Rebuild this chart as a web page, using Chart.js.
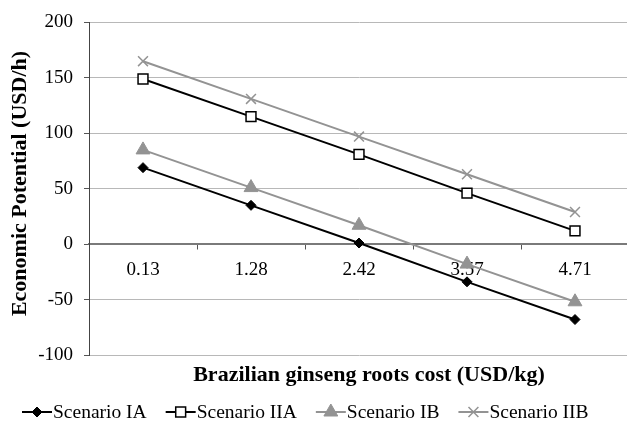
<!DOCTYPE html>
<html>
<head>
<meta charset="utf-8">
<script src="https://cdn.jsdelivr.net/npm/chart.js@4.4.1/dist/chart.umd.min.js"></script>
<style>
  html, body { margin: 0; padding: 0; background: #fff; }
  #wrap { width: 627px; height: 423px; position: relative; overflow: hidden; }
</style>
</head>
<body>
<div id="wrap"><canvas id="chart" width="629" height="423"></canvas></div>
<script>
// Brazilian ginseng roots cost (USD/kg)
const categories = ['0.13', '1.28', '2.42', '3.57', '4.71'];

// Economic potential (USD/h) per scenario
const scenarioIA  = [69, 35, 1, -34, -68];
const scenarioIIA = [149, 115, 81, 46, 12];
const scenarioIB  = [85, 51, 17, -18, -52];
const scenarioIIB = [165, 131, 97, 63, 29];

const yTicks = [-100, -50, 0, 50, 100, 150, 200];

const xTitle = 'Brazilian ginseng roots cost (USD/kg)';
const yTitle = 'Economic Potential (USD/h)';

const SERIF = '"Liberation Serif", "Times New Roman", serif';
const BLACK = '#000000';
const GREY = '#939393';

const datasets = [
  { label: 'Scenario IA', data: scenarioIA, borderColor: BLACK, backgroundColor: BLACK,
    pointStyle: 'rectRot', pointRadius: 5, pointBorderWidth: 1 },
  { label: 'Scenario IIA', data: scenarioIIA, borderColor: BLACK, backgroundColor: '#ffffff',
    pointStyle: 'rect', pointRadius: 7, pointBorderWidth: 1.5 },
  { label: 'Scenario IB', data: scenarioIB, borderColor: GREY, backgroundColor: GREY,
    pointStyle: 'triangle', pointRadius: 8, pointBorderWidth: 1 },
  { label: 'Scenario IIB', data: scenarioIIB, borderColor: GREY, backgroundColor: GREY,
    pointStyle: 'crossRot', pointRadius: 7, pointBorderWidth: 1.5 }
].map(d => Object.assign({ borderWidth: 2, tension: 0, fill: false, clip: false,
  pointBackgroundColor: d.backgroundColor, pointBorderColor: d.borderColor,
  pointHoverRadius: d.pointRadius }, d));

// Axis titles and the line-plus-marker legend along the bottom
const annotations = {
  id: 'annotations',
  afterDraw(chart) {
    const ctx = chart.ctx;
    ctx.save();
    ctx.fillStyle = '#000';
    ctx.font = 'bold 22px ' + SERIF;
    ctx.textAlign = 'center';
    ctx.textBaseline = 'middle';
    ctx.fillText(xTitle, 369, 375);
    ctx.save();
    ctx.translate(20, 183.5);
    ctx.rotate(-Math.PI / 2);
    ctx.fillText(yTitle, 0, 0);
    ctx.restore();

    ctx.font = '19.5px ' + SERIF;
    ctx.textAlign = 'left';
    let x = 22;
    const y = 412;
    chart.data.datasets.forEach((ds) => {
      ctx.strokeStyle = ds.borderColor;
      ctx.lineWidth = 2;
      ctx.beginPath();
      ctx.moveTo(x, y);
      ctx.lineTo(x + 30, y);
      ctx.stroke();
      ctx.fillStyle = ds.pointBackgroundColor;
      ctx.strokeStyle = ds.pointBorderColor;
      ctx.lineWidth = ds.pointBorderWidth;
      Chart.helpers.drawPoint(ctx, { pointStyle: ds.pointStyle, radius: ds.pointRadius,
        borderWidth: ds.pointBorderWidth, rotation: 0 }, x + 15, y);
      ctx.fillStyle = '#000';
      ctx.fillText(ds.label, x + 31, y + 1);
      x += 31 + ctx.measureText(ds.label).width + 19;
    });
    ctx.restore();
  }
};

new Chart(document.getElementById('chart'), {
  type: 'line',
  data: { labels: categories, datasets },
  options: {
    responsive: false,
    animation: false,
    layout: { autoPadding: false, padding: { top: 20, right: 0, bottom: 68, left: 0 } },
    plugins: { legend: { display: false }, tooltip: { enabled: false } },
    scales: {
      x: {
        position: { y: 0 },
        offset: true,
        afterFit(scale) { scale.paddingLeft = 0; scale.paddingRight = 0; },
        grid: { drawOnChartArea: false, drawTicks: true, tickLength: 5, offset: true, tickColor: '#555', tickWidth: 1 },
        border: { color: '#7a7a7a', width: 1.5 },
        ticks: { color: '#000', font: { family: SERIF, size: 19 }, padding: 9, maxRotation: 0 }
      },
      y: {
        min: -100, max: 200,
        afterFit(scale) { scale.width = 89; },
        afterBuildTicks(scale) { scale.ticks = yTicks.map(v => ({ value: v })); },
        grid: {
          color: ctx => ctx.tick && ctx.tick.value === 0 ? '#7a7a7a' : '#b8b8b8',
          lineWidth: 1, tickLength: 5, tickColor: '#555'
        },
        border: { color: '#444', width: 1 },
        ticks: { color: '#000', font: { family: SERIF, size: 19 }, padding: 11 }
      }
    }
  },
  plugins: [annotations]
});
</script>
</body>
</html>
